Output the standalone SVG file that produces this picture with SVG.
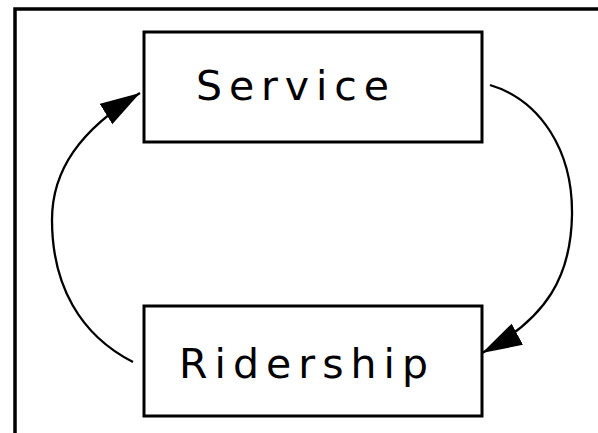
<svg xmlns="http://www.w3.org/2000/svg" width="598" height="433" viewBox="0 0 598 433">
  <style>
    .frame { fill: none; stroke: #000; stroke-width: 3.5; }
    .box { fill: none; stroke: #000; stroke-width: 3; }
    .lbl { font-family: "DejaVu Sans", "Liberation Sans", sans-serif; font-size: 41px; fill: #000; }
    .conn { fill: none; stroke: #000; stroke-width: 2.3; }
  </style>
  <defs>
    <marker id="ah" markerUnits="userSpaceOnUse" markerWidth="42" markerHeight="26" refX="40" refY="12" orient="auto">
      <path d="M0,0 L40,12 L0,24 Z" fill="#000"/>
    </marker>
  </defs>
  <rect width="598" height="433" fill="#fff"/>
  <path class="frame" d="M15,433 L15,9 L598,9"/>
  <g id="service">
    <rect class="box" x="144" y="32" width="338" height="110"/>
    <text class="lbl" x="196" y="100" textLength="193" lengthAdjust="spacing">Service</text>
  </g>
  <g id="ridership">
    <rect class="box" x="144" y="306" width="338" height="110"/>
    <text class="lbl" x="179" y="378" textLength="249" lengthAdjust="spacing">Ridership</text>
  </g>
  <g id="connectors">
    <path class="conn" d="M490,85 C540,100 573,150 572,215 C571,275 548,318 482,353" marker-end="url(#ah)"/>
    <path class="conn" d="M133,362 C80,335 52,285 52,220 C52,170 80,130 140,93" marker-end="url(#ah)"/>
  </g>
</svg>
